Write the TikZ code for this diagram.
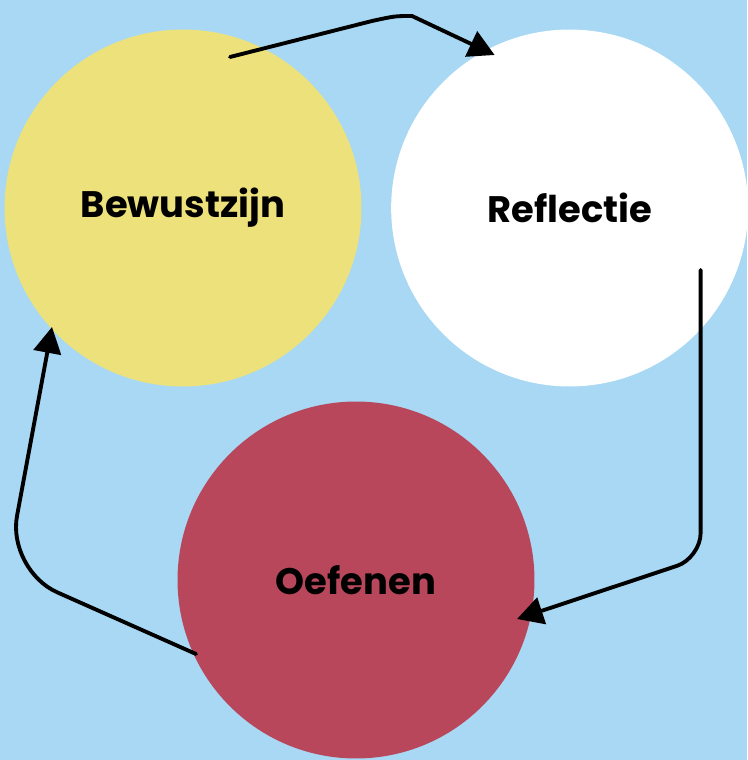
\documentclass[tikz,border=0pt]{standalone}
\usepackage{fontspec}
\setmainfont{Poppins}
\usepackage{xcolor}
\usetikzlibrary{arrows.meta, positioning}
\definecolor{sfondo}{HTML}{A8D8F3}
\definecolor{geel}{HTML}{EDE17B}
\definecolor{rood}{HTML}{B8475C}

\begin{document}
\begin{tikzpicture}[x = 0.02cm, y = -0.02cm,
    cirkel/.style = {circle, minimum size = 7.14cm, inner sep = 0pt,
        font = \fontsize{21}{25}\selectfont\bfseries},
    pijl/.style = {line width = 2.2pt, line cap = round, line join = round,
        -{Triangle[length = 0.52cm, width = 0.55cm]}}]
    % Sfondo
    \fill[sfondo] (0,0) rectangle (747,760);
    \useasboundingbox (0,0) rectangle (747,760);
    % Cerchi
    \node[cirkel, fill = geel] (bew) at (183,208) {Bewustzijn};
    \node[cirkel, fill = white, right = 0.58cm of bew] (refl) {Reflectie};
    \node[cirkel, fill = rood] (oef) at (356,580) {Oefenen};
    % Frecce
    \draw[pijl] ([shift = {(47,-151)}]bew.center) -- (372,21)
        .. controls (395,16) .. (412,16) -- ([shift = {(-75,-153)}]refl.center);
    \draw[pijl, rounded corners = 0.5cm] ([shift = {(131,62)}]refl.center)
        -- ++(0,288) -- ([shift = {(161,39)}]oef.center);
    \draw[pijl, rounded corners = 1.1cm] ([shift = {(-160,74)}]oef.center)
        -- (7,570) -- ([shift = {(-131,119)}]bew.center);
\end{tikzpicture}
\end{document}
